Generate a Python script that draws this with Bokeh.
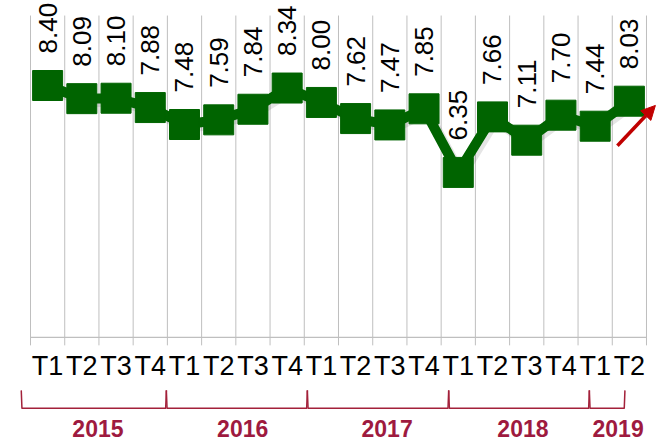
import numpy as np
from bokeh.plotting import figure
from bokeh.models import ColumnDataSource, Range1d, Arrow, NormalHead
from bokeh.core.properties import value
from bokeh.embed import file_html
from bokeh.resources import INLINE

# ---- data ----
years = ["2015", "2016", "2017", "2018", "2019"]
quarters_per_year = [4, 4, 4, 4, 2]
quarter_labels = ["T1", "T2", "T3", "T4"] * 4 + ["T1", "T2"]
values = [8.40, 8.09, 8.10, 7.88, 7.48, 7.59, 7.84, 8.34, 8.00,
          7.62, 7.47, 7.85, 6.35, 7.66, 7.11, 7.70, 7.44, 8.03]

# ---- layout / style constants ----
W, H = 666, 442
PX_X = 34.222          # px per category
PX_Y = 42.4            # px per value unit
LEFT_PX = 30           # px position of first boundary
TOP_VAL = 8.40 + 85 / PX_Y
Y_AXIS = 2.46
Y_TOP = 10.05
GREEN = "#006400"
MAROON = "#9E1A3F"
BRACKET = "#A3213A"
GRIDC = "#BFBFBF"
FONT = "Liberation Sans"

n = len(values)
x0 = -LEFT_PX / PX_X
x_range = Range1d(x0, x0 + W / PX_X)
y_range = Range1d(TOP_VAL - H / PX_Y, TOP_VAL)

def dy(px):
    return px / PX_Y

p = figure(width=W, height=H, x_range=x_range, y_range=y_range,
           output_backend="svg", toolbar_location=None, min_border=0)
p.axis.visible = False
p.grid.visible = False
p.outline_line_color = None
p.background_fill_color = "white"

# grid lines at category boundaries (with tick stubs below axis)
bx = np.arange(n + 1)
p.segment(x0=bx, x1=bx, y0=[Y_AXIS - dy(8)] * len(bx), y1=[Y_TOP] * len(bx),
          line_color=GRIDC, line_width=1)
p.segment(x0=[0], x1=[n], y0=[Y_AXIS], y1=[Y_AXIS], line_color=GRIDC, line_width=1.2)

xs = np.arange(n) + 0.5
src = ColumnDataSource(dict(x=xs, y=values, lbl=[f"{v:.2f}" for v in values]))

# subtle shadow
p.line(x=xs + 0.08, y=np.array(values) - dy(3), line_color="#000000", line_alpha=0.10, line_width=11)
p.line("x", "y", source=src, line_color=GREEN, line_width=10, line_join="miter")
p.scatter("x", "y", source=src, marker="square", size=30, fill_color=GREEN, line_color=GREEN)

p.text("x", "y", text="lbl", source=src, angle=np.pi / 2, y_offset=-32,
       text_align="left", text_baseline="middle", text_font=value(FONT),
       text_font_size="26px", text_color="black")

# quarter tick labels
p.text(x=xs, y=[Y_AXIS] * n, text=quarter_labels, y_offset=29,
       text_align="center", text_baseline="middle", text_font=value(FONT),
       text_font_size="27px", text_color="black")

# year brackets
BRACKET_EDGES = [-0.27, 3.97, 8.09, 12.22, 16.33, 17.37]
YEAR_LABEL_X = [1.97, 6.2, 10.42, 14.39, 17.17]
yb = Y_AXIS - dy(71)
yt = Y_AXIS - dy(53)
bxs, bys = [], []
for i in range(len(years)):
    a, b = BRACKET_EDGES[i], BRACKET_EDGES[i + 1]
    bxs.append([a, a + 0.02, b - 0.02, b])
    bys.append([yt, yb, yb, yt])
p.multi_line(xs=bxs, ys=bys, line_color=BRACKET, line_width=1.5)

p.text(x=YEAR_LABEL_X, y=[Y_AXIS - dy(91)] * len(years), text=years,
       text_align="center", text_baseline="middle",
       text_font=value(FONT), text_font_style="bold",
       text_font_size="23px", text_color=MAROON)

# trend arrow next to last point
lx, ly = xs[-1], values[-1]
p.add_layout(Arrow(end=NormalHead(size=14, fill_color="#C00000", line_color="#C00000"),
                   x_start=lx - 0.35, y_start=ly - 1.05, x_end=lx + 0.76, y_end=ly - 0.10,
                   line_color="#C00000", line_width=3.5))

open("out.html", "w").write(file_html(p, INLINE))
